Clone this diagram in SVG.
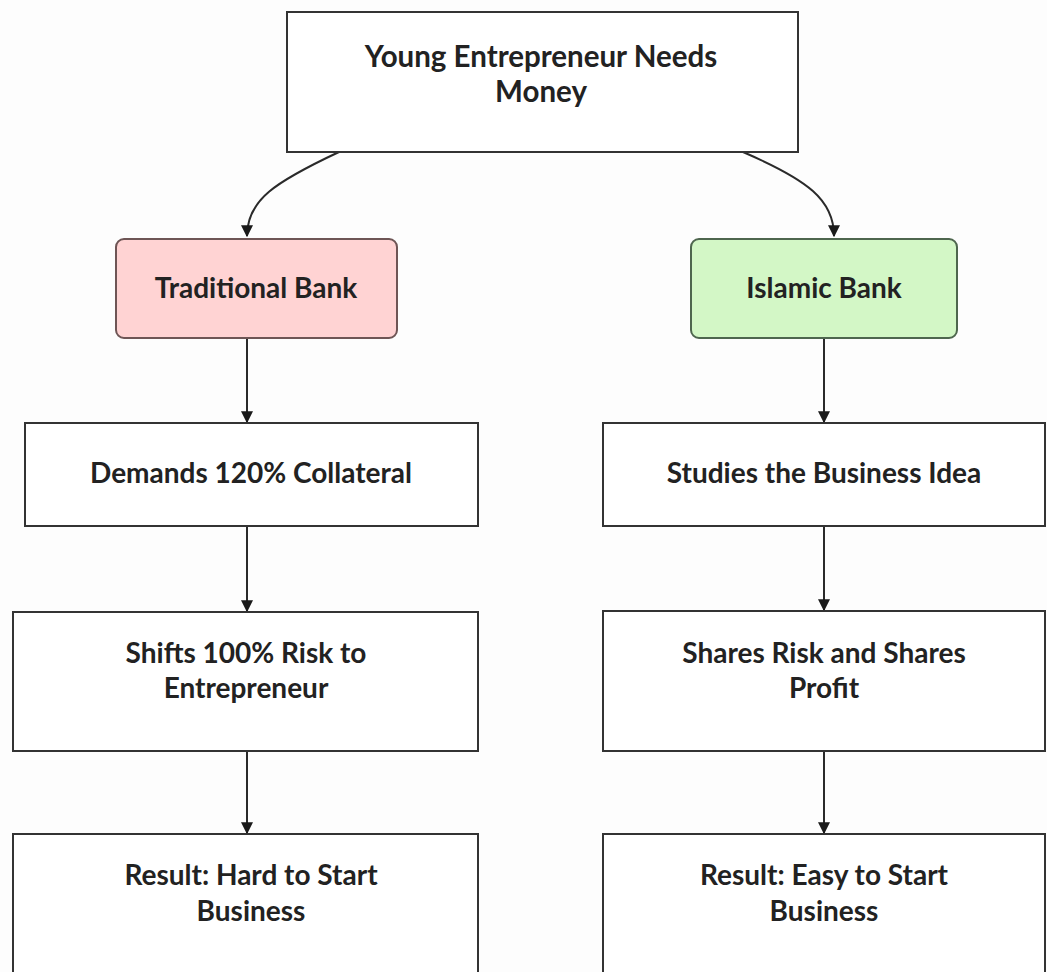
<svg xmlns="http://www.w3.org/2000/svg" width="1047" height="972" viewBox="0 0 1047 972">
<style>
.box{fill:#ffffff;stroke:#333333;stroke-width:2}
.t{font-family:Lato,"Open Sans","Liberation Sans",sans-serif;font-weight:bold;font-size:28px;fill:#222222;text-anchor:middle}
.big{font-size:29.5px}
.edge{fill:none;stroke:#2a2a2a;stroke-width:2}
</style>
<defs>
<marker id="arr" viewBox="0 0 10 10" refX="9" refY="5" markerWidth="12" markerHeight="12" markerUnits="userSpaceOnUse" orient="auto">
<path d="M0,0 L10,5 L0,10 z" fill="#1a1a1a"/>
</marker>
</defs>
<rect width="1047" height="972" fill="#fdfdfd"/>
<g id="connectors">
<path class="edge" d="M339,152 C275,182 247,200 247,236" marker-end="url(#arr)"/>
<path class="edge" d="M743,152 C808,180 834,200 834,236" marker-end="url(#arr)"/>
<path class="edge" d="M247,338 L247,422" marker-end="url(#arr)"/>
<path class="edge" d="M247,526 L247,611" marker-end="url(#arr)"/>
<path class="edge" d="M247,751 L247,833" marker-end="url(#arr)"/>
<path class="edge" d="M824,338 L824,422" marker-end="url(#arr)"/>
<path class="edge" d="M824,526 L824,610" marker-end="url(#arr)"/>
<path class="edge" d="M824,751 L824,833" marker-end="url(#arr)"/>
</g>
<g id="n-start">
<rect class="box" x="287" y="12" width="511" height="140"/>
<text class="t big" x="541" y="67">Young Entrepreneur Needs</text>
<text class="t big" x="541" y="102">Money</text>
</g>
<g id="n-trad">
<rect x="116" y="239" width="281" height="99" rx="8" fill="#ffd3d3" stroke="#6e5555" stroke-width="2"/>
<text class="t" x="256" y="298">Traditional Bank</text>
</g>
<g id="n-islamic">
<rect x="691" y="239" width="266" height="99" rx="8" fill="#d3f7c6" stroke="#4e664e" stroke-width="2"/>
<text class="t" x="824" y="298">Islamic Bank</text>
</g>
<g id="n-demands">
<rect class="box" x="25" y="423" width="453" height="103"/>
<text class="t" x="251" y="483">Demands 120% Collateral</text>
</g>
<g id="n-studies">
<rect class="box" x="603" y="423" width="442" height="103"/>
<text class="t" x="824" y="483">Studies the Business Idea</text>
</g>
<g id="n-shifts">
<rect class="box" x="13" y="612" width="465" height="139"/>
<text class="t" x="246" y="663">Shifts 100% Risk to</text>
<text class="t" x="246" y="698">Entrepreneur</text>
</g>
<g id="n-shares">
<rect class="box" x="603" y="611" width="442" height="140"/>
<text class="t" x="824" y="663">Shares Risk and Shares</text>
<text class="t" x="824" y="698">Profit</text>
</g>
<g id="n-hard">
<rect class="box" x="13" y="834" width="465" height="160"/>
<text class="t" x="251" y="885">Result: Hard to Start</text>
<text class="t" x="251" y="921">Business</text>
</g>
<g id="n-easy">
<rect class="box" x="603" y="834" width="442" height="160"/>
<text class="t" x="824" y="885">Result: Easy to Start</text>
<text class="t" x="824" y="921">Business</text>
</g>
</svg>
